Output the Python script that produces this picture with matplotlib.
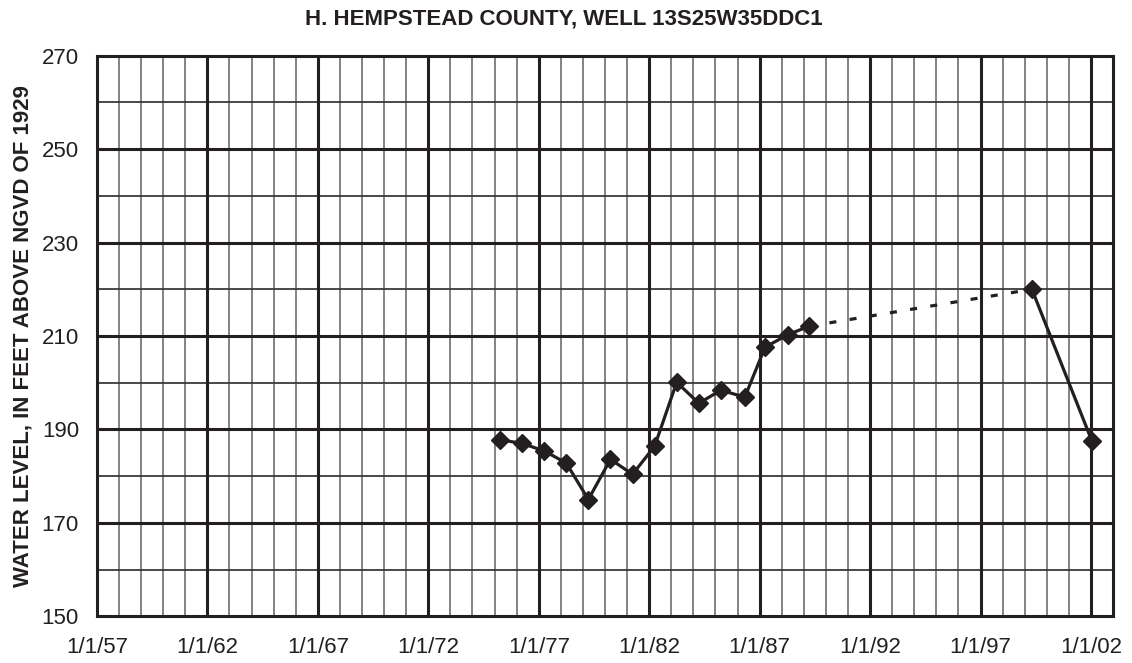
import matplotlib
matplotlib.use("Agg")
import matplotlib.pyplot as plt
import matplotlib.dates as mdates
import pandas as pd

plt.rcParams['font.family'] = ['Liberation Sans', 'DejaVu Sans']

# data
dates = ["1975-04-01", "1976-04-01", "1977-04-01", "1978-04-01", "1979-04-01",
         "1980-04-01", "1981-04-01", "1982-04-01", "1983-04-01", "1984-04-01",
         "1985-04-01", "1986-05-01", "1987-04-01", "1988-04-15", "1989-04-01",
         "1999-05-01", "2002-01-15"]
levels = [187.8, 187.0, 185.4, 182.8, 175.0,
          183.6, 180.4, 186.4, 200.1, 195.6,
          198.4, 196.9, 207.6, 210.3, 212.1,
          220.0, 187.6]
x_tick_years = [1957, 1962, 1967, 1972, 1977, 1982, 1987, 1992, 1997, 2002]
x_tick_labels = ["1/1/57", "1/1/62", "1/1/67", "1/1/72", "1/1/77",
                 "1/1/82", "1/1/87", "1/1/92", "1/1/97", "1/1/02"]
y_ticks = [150, 170, 190, 210, 230, 250, 270]
title = "H. HEMPSTEAD COUNTY, WELL 13S25W35DDC1"
ylabel = "WATER LEVEL, IN FEET ABOVE NGVD OF 1929"

t = pd.to_datetime(dates)
INK = "#231f20"

fig = plt.figure(figsize=(11.32, 6.63), dpi=100)
ax = fig.add_axes([97/1132, 1-616.3/663, (1113-97)/1132, (616.3-55.7)/663])

xmin = mdates.date2num(pd.Timestamp("1957-01-01"))
xmax = mdates.date2num(pd.Timestamp("2003-01-01"))
ax.set_xlim(xmin, xmax)
ax.set_ylim(150, 270)

# grid: yearly minor, 5-year major
for yr in range(1958, 2003):
    xv = mdates.date2num(pd.Timestamp(f"{yr}-01-01"))
    if yr in x_tick_years:
        ax.axvline(xv, color=INK, lw=2.2, zorder=1)
    else:
        ax.axvline(xv, color="#7a7a7a", lw=1.3, zorder=0.5)
for yv in range(160, 270, 10):
    if yv in y_ticks:
        ax.axhline(yv, color=INK, lw=2.2, zorder=1)
    else:
        ax.axhline(yv, color="#3a3a3a", lw=1.3, zorder=0.8)

for s in ax.spines.values():
    s.set_color(INK)
    s.set_linewidth(2.2)

# series: solid segments, dashed gap
ax.plot(t[:15], levels[:15], color=INK, lw=2.3, marker="D", ms=9,
        markerfacecolor=INK, markeredgecolor=INK, zorder=3)
ax.plot(t[14:16], levels[14:16], color=INK, lw=2.3, ls=(0, (2.2, 4.2)), zorder=2)
ax.plot(t[15:], levels[15:], color=INK, lw=2.3, marker="D", ms=9,
        markerfacecolor=INK, markeredgecolor=INK, zorder=3)

ax.set_xticks([mdates.date2num(pd.Timestamp(f"{y}-01-01")) for y in x_tick_years])
ax.set_xticklabels(x_tick_labels)
ax.set_yticks(y_ticks)
ax.tick_params(length=0, labelsize=16, labelcolor=INK)
ax.tick_params(axis='x', pad=15)
ax.tick_params(axis='y', pad=13)

ax.set_ylabel(ylabel, fontsize=16, fontweight="bold", color=INK, labelpad=6)
fig.text(563.5 / 1132, 1 - 19/663, title, ha="center", va="center",
         fontsize=16, fontweight="bold", color=INK)

fig.savefig("out.png", dpi=100)
